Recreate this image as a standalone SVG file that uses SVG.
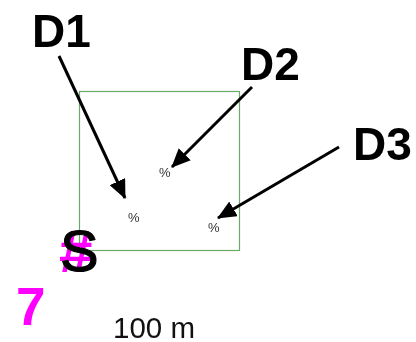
<svg xmlns="http://www.w3.org/2000/svg" width="416" height="342" viewBox="0 0 416 342">
<style>
text{font-family:"Liberation Sans",Arial,sans-serif;filter:url(#n)}
.d{font-size:46px;font-weight:bold;fill:#000}
.p{font-size:13px;fill:#333}
.m{font-weight:bold;fill:#f0f}
.c{stroke:#000;stroke-width:3;fill:none;marker-end:url(#a)}
</style>
<defs>
<filter id="n" x="-10%" y="-10%" width="120%" height="120%"><feOffset dx="0" dy="0"/></filter>
<marker id="a" markerUnits="userSpaceOnUse" markerWidth="19" markerHeight="17" refX="18" refY="8.500" orient="auto"><path d="M0 0L19 8.500L0 17Z" fill="#000"/></marker></defs>
<g id="area"><rect x="79.500" y="91.500" width="160" height="159" fill="none" stroke="#6aa96a" stroke-width="1.200"/></g>
<g id="connectors">
<path class="c" d="M59 56L125 198"/>
<path class="c" d="M252 87L172 167"/>
<path class="c" d="M339 147L218 218"/>
</g>
<g id="D1"><text class="d" x="32" y="47">D1</text></g>
<g id="D2"><text class="d" x="241" y="80">D2</text></g>
<g id="D3"><text class="d" x="353" y="160">D3</text></g>
<g id="p1"><text class="p" x="128" y="222">%</text></g>
<g id="p2"><text class="p" x="159" y="177">%</text></g>
<g id="p3"><text class="p" x="208" y="232">%</text></g>
<g id="hash"><text class="m" x="59" y="272" font-size="60">#</text></g>
<g id="s"><text x="60" y="271" font-size="58" fill="#000" stroke="#000" stroke-width="1">S</text></g>
<g id="seven"><text class="m" x="16" y="325" font-size="53">7</text></g>
<g id="scale"><text x="113" y="338" font-size="29.500" fill="#111">100 m</text></g>
</svg>
